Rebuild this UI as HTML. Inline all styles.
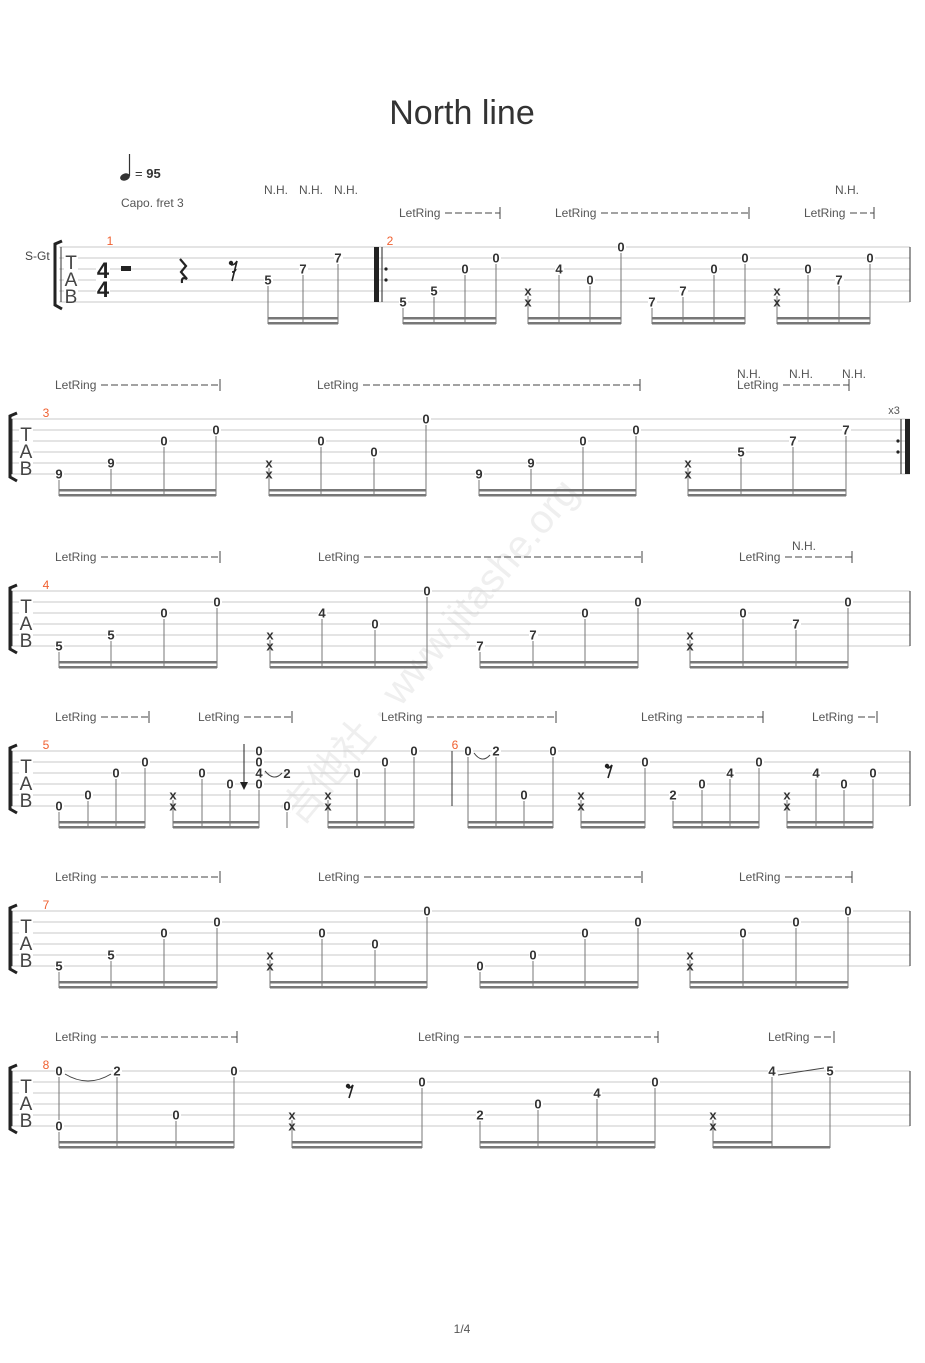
<!DOCTYPE html>
<html><head><meta charset="utf-8"><style>
body{margin:0;background:#fff;}
svg text{font-family:"Liberation Sans","Noto Sans CJK SC",sans-serif;}
</style></head><body>
<svg id="s" width="925" height="1358" xmlns="http://www.w3.org/2000/svg">
<rect width="925" height="1358" fill="#fff"/>
<text x="462" y="124" font-size="34" text-anchor="middle" fill="#333">North line</text>
<text x="462" y="1333" font-size="12" text-anchor="middle" fill="#555">1/4</text>
<ellipse cx="125" cy="177" rx="5" ry="3.5" fill="#333" transform="rotate(-20 125 177)"/>
<line x1="129.5" y1="154" x2="129.5" y2="176" stroke="#333" stroke-width="1.2"/>
<text x="135" y="178" font-size="13" fill="#333">= <tspan font-weight="bold">95</tspan></text>
<text x="121" y="207" font-size="12" fill="#555">Capo. fret 3</text>
<text x="25" y="260" font-size="12" fill="#444">S-Gt</text>
<text x="440" y="660" font-size="40" fill="#efefef" transform="rotate(-50 440 660)" text-anchor="middle">吉他社 · www.jitashe.org</text>
</svg>
<script>
const S=document.getElementById('s');let h='';
const T=[247,419,591,751,911,1071];
function txt(x,y,t,o){o=o||{};h+=`<text x="${x}" y="${y}" font-size="${o.fs||12}" fill="${o.c||'#555'}" text-anchor="${o.a||'start'}" ${o.b?'font-weight="bold"':''}>${t}</text>`;}
function ln(x1,y1,x2,y2,w,c){h+=`<line x1="${x1}" y1="${y1}" x2="${x2}" y2="${y2}" stroke="${c||'#999'}" stroke-width="${w||1}"/>`;}
function erest(x,y){h+=`<circle cx="${x-3}" cy="${y}" r="2.2" fill="#222"/><path d="M${x-3},${y+2} Q${x},${y+2} ${x+2},${y-1} L${x-2},${y+12}" fill="none" stroke="#222" stroke-width="1.6"/>`;}
T.forEach((t,i)=>{
 const x0=i==0?59:10;
 for(let k=0;k<6;k++)ln(x0,t+k*11,910,t+k*11,1,'#c8c8c8');
 ln(x0+2,t,x0+2,t+55,1,'#333');
 const bx=i==0?55:10;
 h+=`<path d="M${bx+7},${t-6} L${bx},${t-3} L${bx},${t+58} L${bx+7},${t+62}" fill="none" stroke="#222" stroke-width="3"/>`;
 const lx=i==0?71:26;
 h+=`<rect x="${lx-7}" y="${t+3}" width="14" height="50" fill="#fff"/>`;
 txt(lx,t+22,'T',{fs:19,c:'#444',a:'middle'});txt(lx,t+39,'A',{fs:19,c:'#444',a:'middle'});txt(lx,t+56,'B',{fs:19,c:'#444',a:'middle'});
 if(i!=1)ln(910,t,910,t+55,1,'#333');
});
[[110,241,'1'],[390,241,'2'],[46,413,'3'],[46,585,'4'],[46,745,'5'],[455,745,'6'],[46,905,'7'],[46,1065,'8']].forEach(a=>txt(a[0],a[1]+4,a[2],{c:'#f06030',fs:12,a:'middle'}));
h+=`<rect x="96" y="262" width="14" height="32" fill="#fff"/>`;
txt(103,278,'4',{fs:22,b:1,c:'#222',a:'middle'});txt(103,297,'4',{fs:22,b:1,c:'#222',a:'middle'});
h+=`<rect x="121" y="266" width="10" height="5" fill="#222"/>`;
h+=`<path d="M180,259 L186,266 L181,272 L187,279 Q181,276 182,283" fill="none" stroke="#222" stroke-width="2.2"/>`;
h+=`<circle cx="231" cy="263" r="2.2" fill="#222"/><path d="M231,265 Q235,265 237,261 L232,281 M232,272 Q235,272 236,269" fill="none" stroke="#222" stroke-width="1.6"/>`;
erest(610,766);erest(351,1086);
h+=`<rect x="374" y="247" width="5" height="55" fill="#222"/>`;ln(382,247,382,302,1,'#222');
h+=`<circle cx="386" cy="269" r="1.6" fill="#222"/><circle cx="386" cy="280" r="1.6" fill="#222"/>`;
h+=`<rect x="905" y="419" width="5" height="55" fill="#222"/>`;ln(901,419,901,474,1,'#222');
h+=`<circle cx="898" cy="441" r="1.6" fill="#222"/><circle cx="898" cy="452" r="1.6" fill="#222"/>`;
txt(894,414,'x3',{fs:11,a:'middle'});
ln(452,751,452,806,1,'#333');
const G=[
[0,[[268,[[3,'5']]],[303,[[2,'7']]],[338,[[1,'7']]]]],
[0,[[403,[[5,'5']]],[434,[[4,'5']]],[465,[[2,'0']]],[496,[[1,'0']]]]],
[0,[[528,[[4,'x'],[5,'x']]],[559,[[2,'4']]],[590,[[3,'0']]],[621,[[0,'0']]]]],
[0,[[652,[[5,'7']]],[683,[[4,'7']]],[714,[[2,'0']]],[745,[[1,'0']]]]],
[0,[[777,[[4,'x'],[5,'x']]],[808,[[2,'0']]],[839,[[3,'7']]],[870,[[1,'0']]]]],
[1,[[59,[[5,'9']]],[111,[[4,'9']]],[164,[[2,'0']]],[216,[[1,'0']]]]],
[1,[[269,[[4,'x'],[5,'x']]],[321,[[2,'0']]],[374,[[3,'0']]],[426,[[0,'0']]]]],
[1,[[479,[[5,'9']]],[531,[[4,'9']]],[583,[[2,'0']]],[636,[[1,'0']]]]],
[1,[[688,[[4,'x'],[5,'x']]],[741,[[3,'5']]],[793,[[2,'7']]],[846,[[1,'7']]]]],
[2,[[59,[[5,'5']]],[111,[[4,'5']]],[164,[[2,'0']]],[217,[[1,'0']]]]],
[2,[[270,[[4,'x'],[5,'x']]],[322,[[2,'4']]],[375,[[3,'0']]],[427,[[0,'0']]]]],
[2,[[480,[[5,'7']]],[533,[[4,'7']]],[585,[[2,'0']]],[638,[[1,'0']]]]],
[2,[[690,[[4,'x'],[5,'x']]],[743,[[2,'0']]],[796,[[3,'7']]],[848,[[1,'0']]]]],
[3,[[59,[[5,'0']]],[88,[[4,'0']]],[116,[[2,'0']]],[145,[[1,'0']]]]],
[3,[[173,[[4,'x'],[5,'x']]],[202,[[2,'0']]],[230,[[3,'0']]],[259,[[0,'0'],[1,'0'],[2,'4'],[3,'0']]]]],
[3,[[287,[[5,'0']]]]],
[3,[[328,[[4,'x'],[5,'x']]],[357,[[2,'0']]],[385,[[1,'0']]],[414,[[0,'0']]]]],
[3,[[468,[[0,'0']]],[496,[[0,'2']]],[524,[[4,'0']]],[553,[[0,'0']]]]],
[3,[[581,[[4,'x'],[5,'x']]],[645,[[1,'0']]]]],
[3,[[673,[[4,'2']]],[702,[[3,'0']]],[730,[[2,'4']]],[759,[[1,'0']]]]],
[3,[[787,[[4,'x'],[5,'x']]],[816,[[2,'4']]],[844,[[3,'0']]],[873,[[2,'0']]]]],
[4,[[59,[[5,'5']]],[111,[[4,'5']]],[164,[[2,'0']]],[217,[[1,'0']]]]],
[4,[[270,[[4,'x'],[5,'x']]],[322,[[2,'0']]],[375,[[3,'0']]],[427,[[0,'0']]]]],
[4,[[480,[[5,'0']]],[533,[[4,'0']]],[585,[[2,'0']]],[638,[[1,'0']]]]],
[4,[[690,[[4,'x'],[5,'x']]],[743,[[2,'0']]],[796,[[1,'0']]],[848,[[0,'0']]]]],
[5,[[59,[[0,'0'],[5,'0']]],[117,[[0,'2']]],[176,[[4,'0']]],[234,[[0,'0']]]]],
[5,[[292,[[4,'x'],[5,'x']]],[422,[[1,'0']]]]],
[5,[[480,[[4,'2']]],[538,[[3,'0']]],[597,[[2,'4']]],[655,[[1,'0']]]]],
[5,[[713,[[4,'x'],[5,'x']]],[772,[[0,'4']]],[830,[[0,'5']]]],1],
];
let notes='';
G.forEach(g=>{
 const t=T[g[0]],ns=g[1];const by=t+70;
 ns.forEach(n=>{
  const top=Math.min(...n[1].map(a=>a[0]));
  ln(n[0],t+top*11+5,n[0],by+7,1,'#777');
  n[1].forEach(a=>{
   const y=t+a[0]*11;
   if(a[1]!='x')notes+=`<rect x="${n[0]-4}" y="${y-6}" width="9" height="12" fill="#fff"/>`;
   notes+=`<text x="${n[0]}" y="${y+4.5}" font-size="13" font-weight="bold" fill="#333" text-anchor="middle">${a[1]}</text>`;
  });
 });
 const x1=ns[0][0],x2=ns[ns.length-1][0];
 if(ns.length>1){
  if(g[2]){h+=`<rect x="${x1}" y="${by}" width="${ns[1][0]-x1}" height="2.5" fill="#777"/>`;}
  else h+=`<rect x="${x1}" y="${by}" width="${x2-x1}" height="2.5" fill="#777"/>`;
  h+=`<rect x="${x1}" y="${by+5}" width="${x2-x1}" height="2.5" fill="#777"/>`;
 }
});
h+=notes;
h+=`<path d="M265,771 Q274,782 282,773" fill="none" stroke="#444"/>`;
h+=`<path d="M474,753 Q482,764 490,755" fill="none" stroke="#444"/>`;
h+=`<path d="M65,1074 Q88,1088 111,1074" fill="none" stroke="#444"/>`;
ln(778,1075,824,1068,1,'#444');
txt(287,778,'2',{fs:13,b:1,c:'#333',a:'middle'});
ln(244,744,244,784,1,'#222');h+=`<path d="M240,782 L248,782 L244,790Z" fill="#222"/>`;
[[276,194],[311,194],[346,194],[847,194],[749,378],[801,378],[854,378],[804,550]].forEach(a=>txt(a[0],a[1],'N.H.',{a:'middle'}));
[[399,217,500],[555,217,749],[804,217,874],[55,389,220],[317,389,640],[737,389,849],
 [55,561,220],[318,561,642],[739,561,852],
 [55,721,149],[198,721,292],[381,721,556],[641,721,763],[812,721,877],
 [55,881,220],[318,881,642],[739,881,852],
 [55,1041,237],[418,1041,658],[768,1041,834]].forEach(a=>{
 txt(a[0],a[1],'LetRing');
 const sx=a[0]+46;
 h+=`<line x1="${sx}" y1="${a[1]-4}" x2="${a[2]}" y2="${a[1]-4}" stroke="#444" stroke-dasharray="7,3"/>`;
 ln(a[2],a[1]-10,a[2],a[1]+2,1,'#444');
});
S.insertAdjacentHTML('beforeend',h);
</script>
</body></html>
